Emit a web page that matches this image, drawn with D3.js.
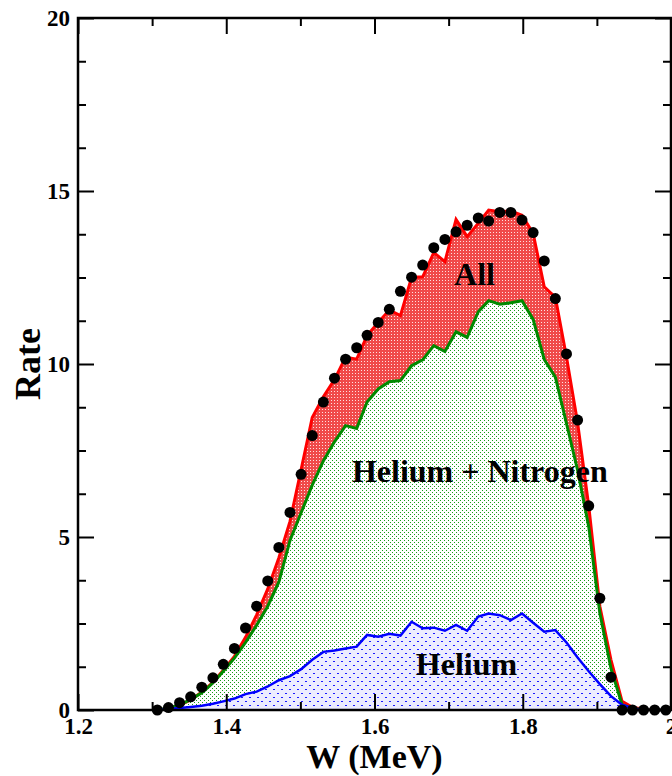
<!DOCTYPE html>
<html lang="en">
<head>
<meta charset="UTF-8">
<title>Rate vs W</title>
<style>
    body { margin: 0; background: #fff; }
    svg { display: block; }
    text { font-family: "Liberation Serif", "Times New Roman", serif; font-weight: bold; }
    .tick text { font-size: 23px; fill: #000; font-family: "Liberation Serif", "Times New Roman", serif; }
    .tick line { stroke: #000; stroke-width: 2px; }
    pattern rect { shape-rendering: crispEdges; }
</style>
<script src="https://cdn.jsdelivr.net/npm/d3@7"></script>
</head>
<body>
<script>
// W grid (MeV) shared by the points and the three curves
const wValues = [1.307, 1.322, 1.337, 1.352, 1.367, 1.382, 1.396, 1.411, 1.426, 1.441,
                 1.456, 1.471, 1.486, 1.501, 1.516, 1.531, 1.546, 1.561, 1.576, 1.590,
                 1.605, 1.620, 1.635, 1.650, 1.665, 1.680, 1.695, 1.710, 1.725, 1.740,
                 1.754, 1.769, 1.784, 1.799, 1.814, 1.829, 1.844, 1.859, 1.874, 1.889,
                 1.904, 1.919, 1.934, 1.948, 1.963, 1.978, 1.993];
// measured rate (black points)
const measured = [0.0, 0.07, 0.21, 0.38, 0.66, 0.93, 1.32, 1.78, 2.37, 3.0,
                  3.73, 4.7, 5.71, 6.81, 7.93, 8.9, 9.59, 10.14, 10.47, 10.83,
                  11.2, 11.58, 12.1, 12.51, 12.86, 13.36, 13.6, 13.82, 14.01, 14.22,
                  14.13, 14.38, 14.38, 14.16, 13.8, 12.98, 11.89, 10.29, 8.38, 5.9,
                  3.23, 0.95, 0.0, 0.0, 0.0, 0.0, 0.0];
// "All"
const rateAll = [0.0, 0.04, 0.14, 0.29, 0.52, 0.8, 1.15, 1.55, 2.1, 2.75,
                 3.5, 4.4, 5.45, 6.95, 8.45, 9.05, 9.55, 10.2, 10.14, 10.82,
                 11.2, 11.56, 11.4, 12.5, 12.52, 13.22, 12.96, 14.18, 13.68, 14.07,
                 14.45, 14.4, 14.42, 14.3, 13.78, 12.23, 11.93, 10.2, 8.3, 5.9,
                 3.0, 1.45, 0.25, 0.08, 0.02, 0.0, 0.0];
// "Helium + Nitrogen"
const rateHeN = [0.0, 0.05, 0.15, 0.3, 0.5, 0.78, 1.12, 1.5, 1.95, 2.45,
                 3.0, 3.7, 4.9, 5.7, 6.5, 7.2, 7.75, 8.22, 8.14, 8.9,
                 9.28, 9.49, 9.52, 9.95, 10.12, 10.53, 10.36, 10.93, 10.77, 11.51,
                 11.83, 11.73, 11.77, 11.83, 11.29, 10.13, 9.62, 8.28, 6.93, 5.3,
                 2.8, 1.2, 0.15, 0.05, 0.0, 0.0, 0.0];
// "Helium"
const rateHe = [0.0, 0.03, 0.06, 0.09, 0.12, 0.18, 0.25, 0.33, 0.46, 0.53,
                0.68, 0.86, 0.98, 1.18, 1.45, 1.68, 1.72, 1.78, 1.83, 2.17,
                2.12, 2.2, 2.15, 2.55, 2.36, 2.38, 2.29, 2.46, 2.29, 2.7,
                2.79, 2.74, 2.6, 2.79, 2.52, 2.26, 2.31, 1.95, 1.52, 1.12,
                0.75, 0.4, 0.15, 0.05, 0.0, 0.0, 0.0];

const xMajor = [1.2, 1.4, 1.6, 1.8, 2.0];
const xTickLabels = ["1.2", "1.4", "1.6", "1.8", "2"];
const xMinor = [1.3, 1.5, 1.7, 1.9];
const yMajor = [0, 5, 10, 15, 20];
const yTickLabels = ["0", "5", "10", "15", "20"];
const yMinor = [1.25, 2.5, 3.75, 6.25, 7.5, 8.75, 11.25, 12.5, 13.75, 16.25, 17.5, 18.75];

const width = 672, height = 776;
const margins = {top: 18, bottom: 66, left: 78, right: 1};

const svg = d3.select("body").append("svg")
    .attr("width", width)
    .attr("height", height);

const xScale = d3.scaleLinear()
    .domain([1.2, 2.0])
    .range([margins.left, width - margins.right]);
const yScale = d3.scaleLinear()
    .domain([0, 20])
    .range([height - margins.bottom, margins.top]);

const rows = wValues.map((w, i) => ({
    w: w, pt: measured[i], all: rateAll[i], hen: rateHeN[i], he: rateHe[i]
}));

// fill patterns
const defs = svg.append("defs");
function makePattern(id, size, bg, dotColor, dots, dotW, dotH) {
    const p = defs.append("pattern").attr("id", id)
        .attr("patternUnits", "userSpaceOnUse")
        .attr("width", size).attr("height", size);
    p.append("rect").attr("width", size).attr("height", size).attr("fill", bg);
    dots.forEach(([x, y]) => {
        p.append("rect").attr("x", x).attr("y", y)
            .attr("width", dotW).attr("height", dotH).attr("fill", dotColor);
    });
}
// red: mostly red with white specks
makePattern("patRed", 3, "#f04a4a", "#ffe0e0", [[1, 1]], 1, 1);
makePattern("patGreen", 4, "#ffffff", "#189c18", [[0, 0], [2, 2]], 1, 1);
makePattern("patBlue", 8, "#ececff", "#1a1aff", [[1, 1], [5, 5]], 2, 1);

defs.append("clipPath").attr("id", "plotClip")
    .append("rect")
    .attr("x", margins.left).attr("y", margins.top)
    .attr("width", width - margins.left - margins.right)
    .attr("height", height - margins.top - margins.bottom);

const plot = svg.append("g").attr("clip-path", "url(#plotClip)");

// areas between the curves
const areaAll = d3.area().x(d => xScale(d.w)).y0(d => yScale(d.hen)).y1(d => yScale(d.all));
const areaHeN = d3.area().x(d => xScale(d.w)).y0(d => yScale(d.he)).y1(d => yScale(d.hen));
const areaHe = d3.area().x(d => xScale(d.w)).y0(yScale(0)).y1(d => yScale(d.he));

plot.append("path").datum(rows).attr("d", areaAll).attr("fill", "url(#patRed)");
plot.append("path").datum(rows).attr("d", areaHeN).attr("fill", "url(#patGreen)");
plot.append("path").datum(rows).attr("d", areaHe).attr("fill", "url(#patBlue)");

// lines
const lineOf = key => d3.line().x(d => xScale(d.w)).y(d => yScale(d[key]));
plot.append("path").datum(rows).attr("d", lineOf("all"))
    .attr("fill", "none").attr("stroke", "#ff0000").attr("stroke-width", 3);
plot.append("path").datum(rows).attr("d", lineOf("hen"))
    .attr("fill", "none").attr("stroke", "#008a00").attr("stroke-width", 3);
plot.append("path").datum(rows).attr("d", lineOf("he"))
    .attr("fill", "none").attr("stroke", "#0000ff").attr("stroke-width", 2.5);

// axes, ticks pointing inward on all four sides
function addAxis(gen, transform, vals, size, labels) {
    const g = svg.append("g")
        .attr("transform", transform)
        .call(gen.tickValues(vals).tickSize(-size)
            .tickFormat(labels ? ((d, i) => labels[i]) : ""));
    g.attr("font-family", null).attr("font-size", null);
    g.select(".domain").remove();
    return g;
}
const bottomY = height - margins.bottom;
const rightX = width - margins.right;
addAxis(d3.axisBottom(xScale).tickPadding(8), `translate(0,${bottomY})`, xMajor, 16, xTickLabels);
addAxis(d3.axisBottom(xScale), `translate(0,${bottomY})`, xMinor, 8, null);
addAxis(d3.axisTop(xScale), `translate(0,${margins.top})`, xMajor, 16, null);
addAxis(d3.axisTop(xScale), `translate(0,${margins.top})`, xMinor, 8, null);
addAxis(d3.axisLeft(yScale).tickPadding(8), `translate(${margins.left},0)`, yMajor, 16, yTickLabels);
addAxis(d3.axisLeft(yScale), `translate(${margins.left},0)`, yMinor, 8, null);
addAxis(d3.axisRight(yScale), `translate(${rightX},0)`, yMajor, 16, null);
addAxis(d3.axisRight(yScale), `translate(${rightX},0)`, yMinor, 8, null);

// frame
svg.append("rect")
    .attr("x", margins.left).attr("y", margins.top)
    .attr("width", rightX - margins.left)
    .attr("height", bottomY - margins.top)
    .attr("fill", "none").attr("stroke", "#000").attr("stroke-width", 2.5);

// measured points
svg.append("g").selectAll("circle")
    .data(rows)
    .enter()
    .append("circle")
    .attr("cx", d => xScale(d.w))
    .attr("cy", d => yScale(d.pt))
    .attr("r", 5.5)
    .attr("fill", "#000");

// curve labels
svg.append("text").attr("x", xScale(1.735)).attr("y", yScale(12.28))
    .attr("text-anchor", "middle").attr("font-size", 32).text("All");
svg.append("text").attr("x", xScale(1.5695)).attr("y", yScale(6.6))
    .attr("font-size", 32).text("Helium + Nitrogen");
svg.append("text").attr("x", xScale(1.6558)).attr("y", yScale(1.01))
    .attr("font-size", 32).text("Helium");

// axis titles
svg.append("text")
    .attr("x", (margins.left + rightX) / 2).attr("y", 768)
    .attr("text-anchor", "middle").attr("font-size", 34)
    .text("W (MeV)");
svg.append("text")
    .attr("transform", `translate(40,${(margins.top + bottomY) / 2}) rotate(-90)`)
    .attr("text-anchor", "middle").attr("font-size", 36)
    .text("Rate");
</script>
</body>
</html>
